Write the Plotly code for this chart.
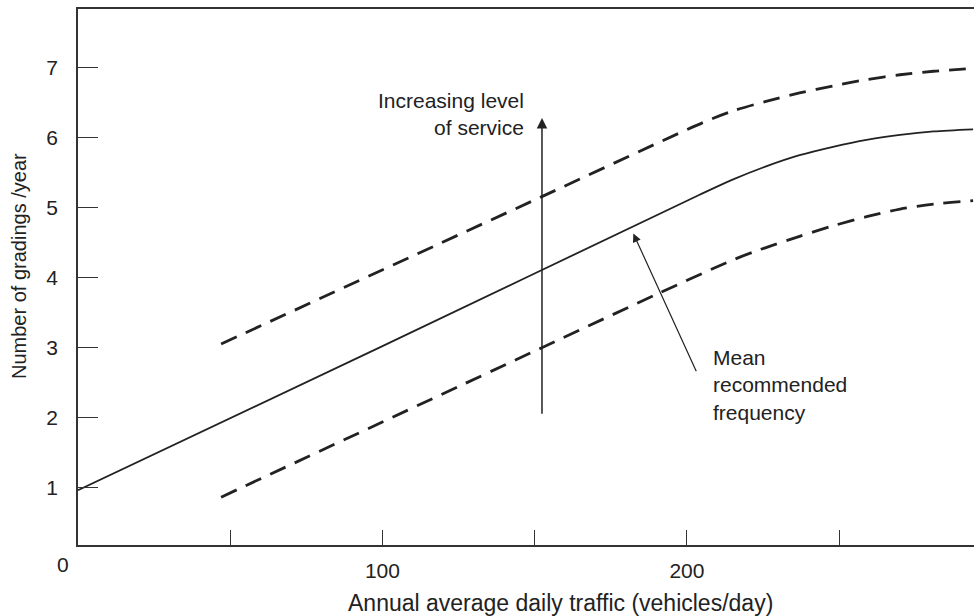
import plotly.graph_objects as go

# Data
traffic_mean = [0, 100, 204, 215, 226, 237, 248, 259, 270, 281, 294]
grade_mean = [0.96, 3.02, 5.18, 5.40, 5.59, 5.75, 5.87, 5.97, 6.04, 6.09, 6.12]

traffic_upper = [47, 152, 206, 215, 226, 237, 248, 259, 270, 281, 294]
grade_upper = [3.05, 5.15, 6.23, 6.38, 6.52, 6.64, 6.74, 6.83, 6.90, 6.95, 6.99]

traffic_lower = [47, 152, 191, 215, 224, 237, 248, 259, 270, 281, 294]
grade_lower = [0.86, 2.99, 3.78, 4.25, 4.40, 4.59, 4.74, 4.87, 4.98, 5.05, 5.10]

x_tickvals = [50, 100, 150, 200, 250]
x_ticktext = ["", "100", "", "200", ""]
y_tickvals = [1, 2, 3, 4, 5, 6, 7]
y_ticktext = ["1", "2", "3", "4", "5", "6", "7"]

service_arrow_x = 152.4
service_arrow_from = 2.03
service_arrow_to = 6.28

mean_arrow_tip = (182.4, 4.63)
mean_arrow_tail = (203.3, 2.64)

FONT = "Liberation Sans, Arial, sans-serif"
INK = "#222222"
AX = "#333333"

fig = go.Figure()
fig.add_trace(go.Scatter(x=traffic_mean, y=grade_mean, mode="lines",
                         line=dict(color=INK, width=1.8, shape="spline", smoothing=0.8),
                         showlegend=False, hoverinfo="skip"))
fig.add_trace(go.Scatter(x=traffic_upper, y=grade_upper, mode="lines",
                         line=dict(color=INK, width=2.8, dash="17px,10px", shape="spline", smoothing=0.8),
                         showlegend=False, hoverinfo="skip"))
fig.add_trace(go.Scatter(x=traffic_lower, y=grade_lower, mode="lines",
                         line=dict(color=INK, width=2.8, dash="17px,10px", shape="spline", smoothing=0.8),
                         showlegend=False, hoverinfo="skip"))

# Vertical arrow: increasing level of service
fig.add_annotation(x=service_arrow_x, y=service_arrow_to, ax=service_arrow_x, ay=service_arrow_from,
                   xref="x", yref="y", axref="x", ayref="y", text="", showarrow=True,
                   arrowhead=2, arrowsize=1.4, arrowwidth=1.5, arrowcolor=INK)
fig.add_annotation(x=(526 - 78) / 896, y=(545 - 114) / 536, xref="paper", yref="paper",
                   xanchor="right", yanchor="middle",
                   text="Increasing level<br>of service", showarrow=False, align="right",
                   font=dict(family=FONT, size=21, color=INK))

# Mean recommended frequency arrow
fig.add_annotation(x=mean_arrow_tip[0], y=mean_arrow_tip[1], ax=mean_arrow_tail[0], ay=mean_arrow_tail[1],
                   xref="x", yref="y", axref="x", ayref="y", text="", showarrow=True,
                   arrowhead=2, arrowsize=1.4, arrowwidth=1.2, arrowcolor=INK)
fig.add_annotation(x=(711 - 78) / 896, y=(545 - 385) / 536, xref="paper", yref="paper",
                   xanchor="left", yanchor="middle",
                   text="Mean<br>recommended<br>frequency", showarrow=False, align="left",
                   font=dict(family=FONT, size=21, color=INK))

# Origin label and axis titles
fig.add_annotation(x=(63 - 78) / 896, y=(545 - 564) / 536, xref="paper", yref="paper",
                   xanchor="center", yanchor="middle", text="0", showarrow=False,
                   font=dict(family=FONT, size=21, color=INK))
fig.add_annotation(x=(560 - 78) / 896, y=(545 - 603) / 536, xref="paper", yref="paper",
                   xanchor="center", yanchor="middle",
                   text="Annual average daily traffic (vehicles/day)", showarrow=False,
                   font=dict(family=FONT, size=23, color=INK))
fig.add_annotation(x=(19 - 78) / 896, y=(545 - 266) / 536, xref="paper", yref="paper",
                   xanchor="center", yanchor="middle", textangle=-90,
                   text="Number of gradings /year", showarrow=False,
                   font=dict(family=FONT, size=20, color=INK))

fig.update_layout(
    width=974, height=616,
    margin=dict(l=78, r=0, t=9, b=71),
    paper_bgcolor="white", plot_bgcolor="white",
    font=dict(family=FONT, size=20, color=INK),
    showlegend=False,
    xaxis=dict(range=[0, 294.3], showgrid=False, zeroline=False,
               showline=True, linecolor=AX, linewidth=1.5, mirror=True,
               ticks="inside", ticklen=15, tickwidth=1.3, tickcolor=AX,
               tickvals=x_tickvals, ticktext=x_ticktext, ticklabelstandoff=6,
               tickfont=dict(family=FONT, size=21, color=INK)),
    yaxis=dict(range=[0.176, 7.84], showgrid=False, zeroline=False,
               showline=True, linecolor=AX, linewidth=1.5,
               ticks="inside", ticklen=20, tickwidth=1.3, tickcolor=AX,
               tickvals=y_tickvals, ticktext=y_ticktext, ticklabelstandoff=14,
               tickfont=dict(family=FONT, size=21, color=INK)),
)

fig.write_html("out.html", config={"displayModeBar": False},
               post_script="document.body.style.margin='0';document.body.style.overflow='hidden';")
